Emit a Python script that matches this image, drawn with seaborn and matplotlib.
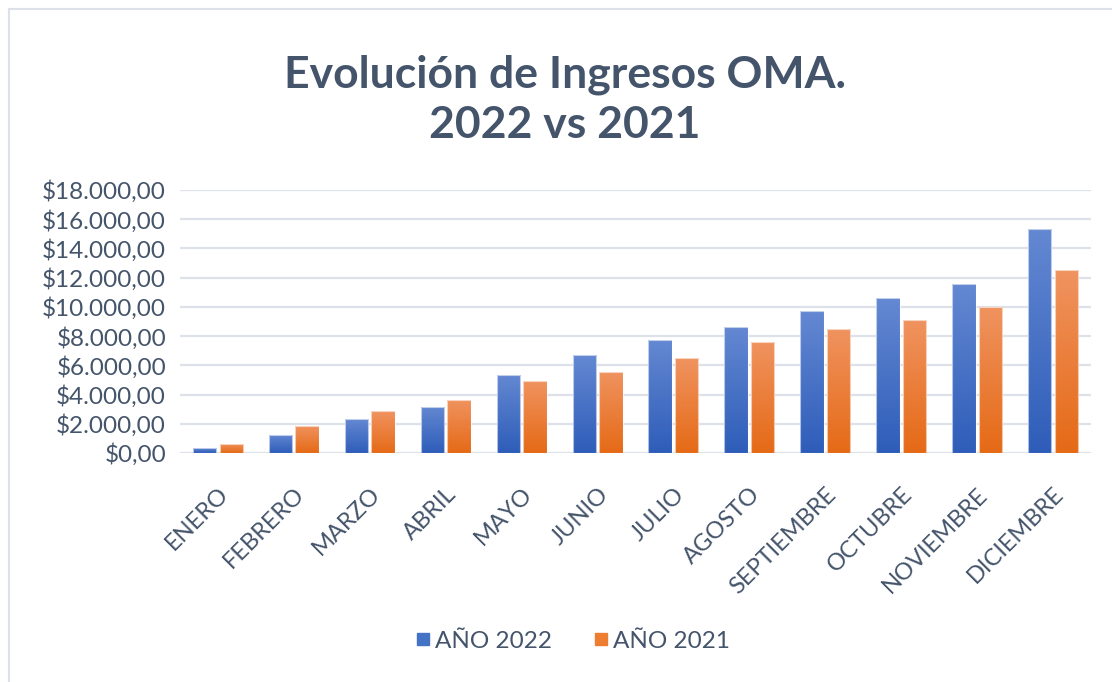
import numpy as np
import pandas as pd
import matplotlib
matplotlib.use('Agg')
import matplotlib.pyplot as plt
import matplotlib.colors as mcolors
from matplotlib.patches import Rectangle
from matplotlib.ticker import FuncFormatter
import seaborn as sns

# datos
meses = ['ENERO', 'FEBRERO', 'MARZO', 'ABRIL', 'MAYO', 'JUNIO', 'JULIO',
         'AGOSTO', 'SEPTIEMBRE', 'OCTUBRE', 'NOVIEMBRE', 'DICIEMBRE']
ingresos_2022 = [350, 1250, 2300, 3150, 5350, 6700, 7700, 8600, 9700, 10600, 11550, 15350]
ingresos_2021 = [650, 1850, 2850, 3650, 4950, 5550, 6500, 7600, 8500, 9100, 10000, 12550]
series = ['AÑO 2022', 'AÑO 2021']

df = pd.DataFrame({
    'mes': meses * 2,
    'ingreso': ingresos_2022 + ingresos_2021,
    'serie': [series[0]] * 12 + [series[1]] * 12,
})

texto = '#44546A'
sns.set_theme(style='white')
plt.rcParams['font.family'] = ['Lato', 'DejaVu Sans']

fig = plt.figure(figsize=(11.12, 6.82), dpi=100)
ax = fig.add_axes([180 / 1112, 1 - 453 / 682, (1091 - 180) / 1112, (453 - 190) / 682])

colores = {'AÑO 2022': '#4472C4', 'AÑO 2021': '#ED7D31'}
sns.barplot(data=df, x='mes', y='ingreso', hue='serie', palette=colores,
            width=0.7, gap=0.12, ax=ax, legend=False)

# degradado vertical en cada barra (estilo Excel)
grad = {'AÑO 2022': ('#6488D2', '#2E5DB9'), 'AÑO 2021': ('#F09360', '#E56A16')}
for cont, s in zip(ax.containers, series):
    cmap = mcolors.LinearSegmentedColormap.from_list('g', [grad[s][1], grad[s][0]])
    for p in cont.patches:
        x0, y0 = p.get_x(), p.get_y()
        w, h = p.get_width(), p.get_height()
        p.set_facecolor('none')
        p.set_edgecolor((1, 1, 1, 0.6))
        p.set_linewidth(0.8)
        im = ax.imshow(np.linspace(0, 1, 100).reshape(-1, 1), cmap=cmap, origin='lower',
                       extent=[x0, x0 + w, y0, y0 + h], aspect='auto', zorder=p.get_zorder() - 0.1)
        im.set_clip_path(p)

ax.set_xlim(-0.5, 11.5)
ax.set_ylim(0, 18000)
ax.set_yticks(range(0, 18001, 2000))
ax.yaxis.set_major_formatter(FuncFormatter(lambda v, _: '$' + f'{v:,.2f}'.replace(',', 'X').replace('.', ',').replace('X', '.')))
ax.grid(axis='y', color='#DDE2EA', linewidth=1.6)
ax.set_axisbelow(True)
sns.despine(ax=ax, left=True, bottom=True, top=True, right=True)
ax.set_xlabel('')
ax.set_ylabel('')
ax.tick_params(axis='y', labelsize=17.5, labelcolor=texto, length=0, pad=10)
ax.tick_params(axis='x', labelsize=17, labelcolor=texto, length=0, pad=22)
plt.setp(ax.get_xticklabels(), rotation=45, ha='right', rotation_mode='anchor')

fig.text(0.508, 1 - 100 / 682, 'Evolución de Ingresos OMA.\n2022 vs 2021', ha='center', va='center',
         fontsize=32, fontweight='bold', color=texto, linespacing=1.3)

handles = [plt.Line2D([], [], marker='s', linestyle='', markersize=9, color=colores[s]) for s in series]
fig.legend(handles, series, loc='center', bbox_to_anchor=(0.512, 1 - 641 / 682), ncol=2,
           frameon=False, fontsize=17.5, labelcolor=texto, handletextpad=-0.1, columnspacing=1.4,
           handlelength=1.2)

# borde del area del grafico
fig.patches.append(Rectangle((9 / 1112, -0.05), 1.2, 1 - 9 / 682 + 0.05, transform=fig.transFigure,
                             fill=False, edgecolor='#DDE2EA', linewidth=1.5))

fig.savefig('out.png', dpi=100)
